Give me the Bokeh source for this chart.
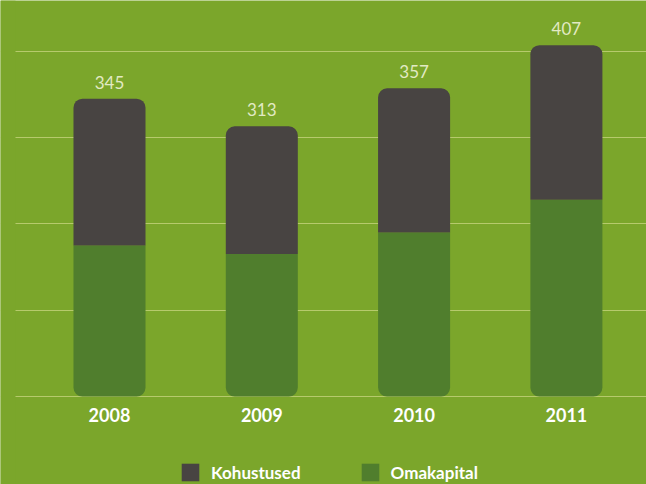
from bokeh.plotting import figure
from bokeh.models import ColumnDataSource, Range1d, Grid, FixedTicker, Legend, LegendItem, BoxAnnotation
from bokeh.core.properties import value
from bokeh.embed import file_html
from bokeh.resources import INLINE

# ---- data ----
years = ["2008", "2009", "2010", "2011"]
omakapital = [175, 165, 190, 228]
kohustused = [170, 148, 167, 179]
totals = [345, 313, 357, 407]
grid_values = [0, 100, 200, 300, 400]

# ---- styles ----
BG = "#7BA62B"
DARK = "#484442"
GREEN = "#507E2D"
GRID = "#B6CA6C"
LABEL = "#E2EAC4"

x = [int(y) for y in years]
src = ColumnDataSource(dict(
    x=x, years=years, oma=omakapital, koh=kohustused, total=totals,
    zero=[0] * len(years), label=[str(t) for t in totals],
))

p = figure(width=646, height=484, output_backend="svg", toolbar_location=None,
           x_axis_location=None, y_axis_location=None,
           x_range=Range1d(2007.2843, 2011.526), y_range=Range1d(-101.9, 458.7),
           min_border_left=0, min_border_right=0, min_border_top=0, min_border_bottom=0)
p.background_fill_color = BG
p.border_fill_color = BG
p.outline_line_color = None
p.xgrid.visible = False
p.ygrid.visible = False

p.add_layout(Grid(dimension=1, ticker=FixedTicker(ticks=grid_values),
                  grid_line_color=GRID, grid_line_width=1.2))
# left margin where the grid lines do not reach
p.add_layout(BoxAnnotation(right=15, right_units="screen", fill_color=BG,
                           fill_alpha=1, line_color=None))

bar_w = 0.473
r_oma = p.vbar(x="x", bottom="zero", top="oma", width=bar_w, source=src,
               fill_color=GREEN, line_color=None, border_radius=(0, 0, 9, 9))
r_koh = p.vbar(x="x", bottom="oma", top="total", width=bar_w, source=src,
               fill_color=DARK, line_color=None, border_radius=(9, 9, 0, 0))

p.text(x="x", y="total", text="label", source=src, text_align="center",
       text_baseline="bottom", y_offset=-10, text_color=LABEL,
       text_font=value("Lato"), text_font_size="17px")
p.text(x="x", y="zero", text="years", source=src, text_align="center",
       text_baseline="middle", y_offset=18, text_color="white",
       text_font=value("Lato"), text_font_size="18px", text_font_style="bold")

legend = Legend(items=[LegendItem(label="Kohustused", renderers=[r_koh]),
                       LegendItem(label="Omakapital", renderers=[r_oma])],
                orientation="horizontal", location=(179, 1),
                background_fill_alpha=0, border_line_color=None,
                padding=0, margin=0, spacing=58, label_standoff=10,
                glyph_width=22, glyph_height=22, label_height=22,
                label_text_color="white", label_text_font="Lato",
                label_text_font_size="17px", label_text_font_style="bold")
p.add_layout(legend, "center")

open("out.html", "w").write(file_html(p, INLINE))
